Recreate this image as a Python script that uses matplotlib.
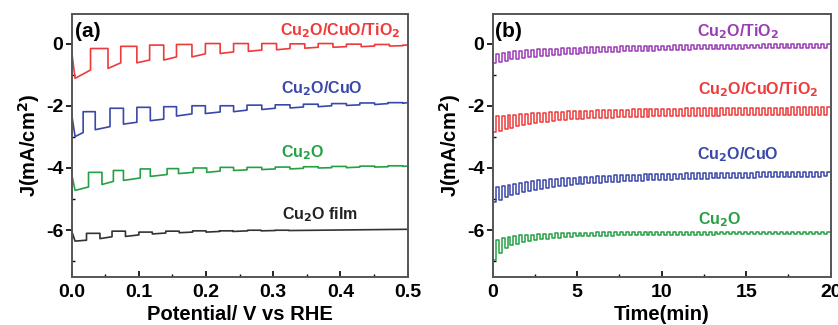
import numpy as np
import matplotlib
matplotlib.use('Agg')
import matplotlib.pyplot as plt
from matplotlib.ticker import MultipleLocator

plt.rcParams['font.family'] = ['Liberation Sans', 'DejaVu Sans']
plt.rcParams['font.weight'] = 'bold'
plt.rcParams['mathtext.default'] = 'bf'
plt.rcParams['axes.unicode_minus'] = False

# ---- panel (a): chopped LSV ----
# each curve: start value, light-on / light-off potentials, light level,
# dark level at start and end of every dark segment
red_y0 = -0.27
red_on = [0.028, 0.073, 0.116, 0.156, 0.199, 0.241, 0.283, 0.325, 0.367, 0.409, 0.451, 0.493]
red_off = [0.054, 0.097, 0.137, 0.179, 0.221, 0.263, 0.305, 0.347, 0.389, 0.431, 0.473]
red_light = [-0.16, -0.09, -0.05, -0.03, 0.0, 0.0, 0.0, -0.01, 0.0, -0.02, -0.03, -0.05]
red_dark_a = [-1.12, -0.80, -0.62, -0.53, -0.43, -0.32, -0.25, -0.20, -0.15, -0.12, -0.10, -0.08]
red_dark_b = [-0.85, -0.62, -0.53, -0.43, -0.33, -0.27, -0.21, -0.16, -0.12, -0.10, -0.08, -0.07]

blue_y0 = -2.29
blue_on = [0.017, 0.057, 0.097, 0.137, 0.179, 0.221, 0.261, 0.303, 0.345, 0.387, 0.429, 0.471]
blue_off = [0.035, 0.077, 0.117, 0.156, 0.199, 0.241, 0.283, 0.325, 0.367, 0.409, 0.451, 0.493]
blue_light = [-2.19, -2.08, -2.05, -2.03, -2.00, -2.00, -1.98, -1.97, -1.95, -1.93, -1.91, -1.90]
blue_dark_a = [-2.99, -2.77, -2.59, -2.48, -2.33, -2.25, -2.19, -2.12, -2.07, -2.03, -1.99, -1.96, -1.92]
blue_dark_b = [-2.86, -2.67, -2.53, -2.43, -2.26, -2.20, -2.14, -2.08, -2.04, -2.00, -1.97, -1.93, -1.90]

green_y0 = -4.21
green_on = [0.025, 0.062, 0.102, 0.142, 0.181, 0.221, 0.261, 0.303, 0.345, 0.387, 0.429, 0.471]
green_off = [0.045, 0.077, 0.117, 0.159, 0.201, 0.241, 0.283, 0.325, 0.367, 0.409, 0.451, 0.493]
green_light = [-4.14, -4.08, -4.03, -4.02, -4.00, -3.98, -3.98, -3.97, -3.96, -3.95, -3.94, -3.93]
green_dark_a = [-4.72, -4.53, -4.40, -4.27, -4.18, -4.14, -4.08, -4.05, -4.03, -4.00, -3.99, -3.97, -3.95]
green_dark_b = [-4.61, -4.43, -4.32, -4.21, -4.14, -4.10, -4.06, -4.03, -4.01, -3.99, -3.97, -3.96, -3.94]

black_y0 = -6.03
black_on = [0.022, 0.060, 0.100, 0.140, 0.180, 0.220, 0.262, 0.303]
black_off = [0.042, 0.080, 0.120, 0.160, 0.200, 0.240, 0.282, 0.323]
black_light = [-6.10, -6.03, -6.06, -6.03, -6.02, -6.02, -6.00, -6.00]
black_dark_a = [-6.35, -6.27, -6.20, -6.12, -6.08, -6.06, -6.04, -6.02, -6.01]
black_dark_b = [-6.32, -6.21, -6.15, -6.09, -6.06, -6.04, -6.02, -6.01, -5.97]

# ---- panel (b): chopped chronoamperometry envelopes ----
chop_period = 0.35  # min
env_t = [0, 0.5, 1, 2, 3, 5, 8, 12, 16, 20]
purple_hi = [-0.35, -0.30, -0.27, -0.22, -0.18, -0.13, -0.09, -0.05, -0.03, -0.02]
purple_lo = [-0.65, -0.58, -0.52, -0.45, -0.40, -0.32, -0.25, -0.19, -0.15, -0.13]
redb_hi = [-2.35, -2.32, -2.30, -2.26, -2.22, -2.17, -2.12, -2.08, -2.06, -2.05]
redb_lo = [-2.85, -2.80, -2.72, -2.60, -2.52, -2.42, -2.36, -2.32, -2.30, -2.28]
blueb_hi = [-4.65, -4.60, -4.55, -4.45, -4.38, -4.30, -4.22, -4.17, -4.14, -4.12]
blueb_lo = [-5.10, -5.00, -4.90, -4.75, -4.65, -4.52, -4.42, -4.35, -4.30, -4.27]
greenb_hi = [-6.40, -6.25, -6.20, -6.15, -6.12, -6.08, -6.06, -6.05, -6.05, -6.05]
greenb_lo = [-7.00, -6.70, -6.50, -6.35, -6.28, -6.20, -6.16, -6.14, -6.13, -6.12]

c_red = '#ee3a3a'
c_blue = '#3a48a8'
c_green = '#25a045'
c_black = '#333333'
c_purple = '#9a3cb4'


def chopped(y0, on, off, light, dark_a, dark_b, xend=0.5):
    xs = [0.0, 0.005]
    ys = [y0, dark_a[0]]
    for i in range(len(on)):
        xs += [on[i], on[i]]
        ys += [dark_b[i], light[i]]
        stop = off[i] if i < len(off) else xend
        xs.append(stop)
        ys.append(light[i])
        if i < len(off):
            xs.append(stop)
            ys.append(dark_a[i + 1])
    if len(off) == len(on):
        xs.append(xend)
        ys.append(dark_b[len(on)])
    return xs, ys


def square(t_env, hi, lo, period, tend=20):
    edges = np.arange(0, tend + 1e-9, period / 2)
    xs, ys = [], []
    for k in range(len(edges) - 1):
        mid = 0.5 * (edges[k] + edges[k + 1])
        v = np.interp(mid, t_env, hi if k % 2 else lo)
        xs += [edges[k], edges[k + 1]]
        ys += [v, v]
    return xs, ys


fig = plt.figure(figsize=(8.38, 3.25), dpi=100)
axa = fig.add_axes([0.0856, 0.148, 0.4007, 0.809])
axb = fig.add_axes([0.588, 0.148, 0.4033, 0.809])

for c, args in [(c_red, (red_y0, red_on, red_off, red_light, red_dark_a, red_dark_b)),
                (c_blue, (blue_y0, blue_on, blue_off, blue_light, blue_dark_a, blue_dark_b)),
                (c_green, (green_y0, green_on, green_off, green_light, green_dark_a, green_dark_b)),
                (c_black, (black_y0, black_on, black_off, black_light, black_dark_a, black_dark_b))]:
    x, y = chopped(*args)
    axa.plot(x, y, color=c, lw=1.2)

for c, hi, lo in [(c_purple, purple_hi, purple_lo), (c_red, redb_hi, redb_lo),
                  (c_blue, blueb_hi, blueb_lo), (c_green, greenb_hi, greenb_lo)]:
    x, y = square(env_t, hi, lo, chop_period)
    axb.plot(x, y, color=c, lw=1.1)

lab = dict(fontsize=11.5, fontweight='bold', va='center')
axa.text(0.489, 0.42, r'Cu$_2$O/CuO/TiO$_2$', color=c_red, ha='right', **lab)
axa.text(0.373, -1.44, r'Cu$_2$O/CuO', color=c_blue, ha='center', **lab)
axa.text(0.344, -3.52, r'Cu$_2$O', color=c_green, ha='center', **lab)
axa.text(0.370, -5.49, r'Cu$_2$O film', color='#222222', ha='center', **lab)
axa.text(0.005, 0.40, '(a)', fontsize=15, fontweight='bold', va='center', ha='left')

axb.text(14.54, 0.37, r'Cu$_2$O/TiO$_2$', color=c_purple, ha='center', **lab)
axb.text(15.72, -1.49, r'Cu$_2$O/CuO/TiO$_2$', color=c_red, ha='center', **lab)
axb.text(14.49, -3.57, r'Cu$_2$O/CuO', color=c_blue, ha='center', **lab)
axb.text(13.45, -5.65, r'Cu$_2$O', color=c_green, ha='center', **lab)
axb.text(0.15, 0.40, '(b)', fontsize=15, fontweight='bold', va='center', ha='left')

axa.set_xlim(0, 0.5)
axa.xaxis.set_major_locator(MultipleLocator(0.1))
axa.xaxis.set_minor_locator(MultipleLocator(0.05))
axa.xaxis.set_major_formatter(matplotlib.ticker.FormatStrFormatter('%.1f'))
axa.set_xlabel('Potential/ V vs RHE', fontsize=14.5, fontweight='bold', labelpad=3)

axb.set_xlim(0, 20)
axb.xaxis.set_major_locator(MultipleLocator(5))
axb.xaxis.set_minor_locator(MultipleLocator(2.5))
axb.set_xlabel('Time(min)', fontsize=14.5, fontweight='bold', labelpad=3)

for ax in (axa, axb):
    ax.set_ylim(-7.5, 0.95)
    ax.yaxis.set_major_locator(MultipleLocator(2))
    ax.yaxis.set_minor_locator(MultipleLocator(1))
    ax.set_ylabel(r'J(mA/cm$^2$)', fontsize=14.5, fontweight='bold', labelpad=3)
    ax.tick_params(axis='x', which='both', direction='in', labelsize=14, pad=5)
    ax.tick_params(axis='x', which='major', length=4, width=1.2)
    ax.tick_params(axis='x', which='minor', length=2.5, width=1)
    ax.tick_params(axis='y', which='major', direction='out', length=4, width=1.2, labelsize=14, pad=2)
    ax.tick_params(axis='y', which='minor', direction='in', length=2.5, width=1)
    for s in ax.spines.values():
        s.set_linewidth(1.4)
        s.set_color('#555555')
    for t in ax.get_xticklabels() + ax.get_yticklabels():
        t.set_fontweight('bold')

fig.savefig('out.png', dpi=100)
